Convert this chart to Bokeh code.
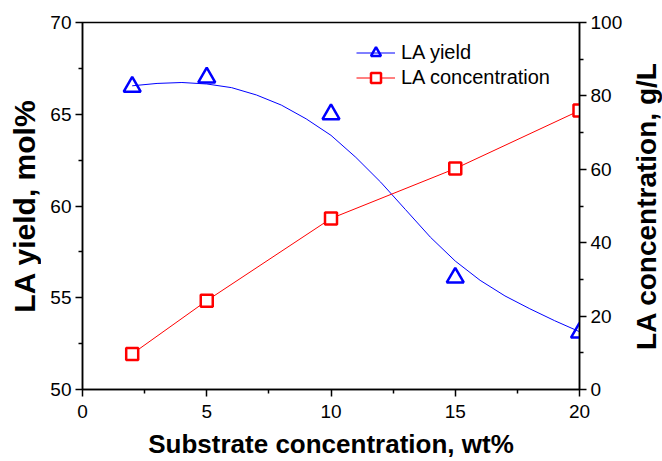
from bokeh.plotting import figure
from bokeh.layouts import row
from bokeh.models import Range1d, LinearAxis, Legend, LegendItem, FixedTicker
from bokeh.embed import file_html
from bokeh.resources import INLINE

# ---- data ----
substrate = [2, 5, 10, 15, 20]
la_yield = [66.5, 67.0, 65.0, 56.1, 53.1]
la_conc = [9.7, 24.2, 46.6, 60.2, 76.0]
fit_x = [2, 3, 4, 5, 6, 7, 8, 9, 10, 11, 12, 13, 14, 15, 16, 17, 18, 19, 20]
fit_yield = [66.55, 66.68, 66.73, 66.65, 66.45, 66.05, 65.5, 64.75, 63.85,
             62.65, 61.3, 59.8, 58.3, 57.0, 55.95, 55.1, 54.4, 53.75, 53.15]
x_ticks = [0, 5, 10, 15, 20]
x_minor = [2.5, 7.5, 12.5, 17.5]
left_ticks = [50, 55, 60, 65, 70]
left_minor = [52.5, 57.5, 62.5, 67.5]
right_ticks = [0, 20, 40, 60, 80, 100]
right_minor = [10, 30, 50, 70, 90]
x_title = "Substrate concentration, wt%"
left_title = "LA yield, mol%"
right_title = "LA concentration, g/L"

FONT = "Liberation Sans"
BLUE = "#0000ff"
RED = "#ff0000"
H = 461

p = figure(width=584, height=H, output_backend="svg", toolbar_location=None,
           x_range=Range1d(0, 20), y_range=Range1d(50, 70),
           min_border_left=41, min_border_right=45, min_border_top=22,
           min_border_bottom=70)
p.extra_y_ranges = {"conc": Range1d(0, 100)}
p.xgrid.visible = False
p.ygrid.visible = False
p.outline_line_color = "black"
p.outline_line_width = 1.5
p.background_fill_color = "white"
p.border_fill_color = "white"

def style_axis(ax, ticks, minor):
    ax.ticker = FixedTicker(ticks=ticks, minor_ticks=minor)
    ax.axis_line_color = "black"
    ax.axis_line_width = 1.5
    ax.major_tick_line_width = 1.5
    ax.minor_tick_line_width = 1.5
    ax.major_tick_in = 0
    ax.major_tick_out = 7
    ax.minor_tick_in = 0
    ax.minor_tick_out = 4
    ax.major_label_text_font = FONT
    ax.major_label_text_font_size = "19px"
    ax.major_label_text_color = "black"

xa = p.xaxis[0]
style_axis(xa, x_ticks, x_minor)
xa.major_label_standoff = 8
xa.axis_label = x_title
xa.axis_label_standoff = 8
xa.axis_label_text_font = FONT
xa.axis_label_text_font_style = "bold"
xa.axis_label_text_font_size = "26px"
xa.axis_label_text_color = "black"

ya = p.yaxis[0]
style_axis(ya, left_ticks, left_minor)
ya.major_label_standoff = 4

ra = LinearAxis(y_range_name="conc")
style_axis(ra, right_ticks, right_minor)
ra.major_label_standoff = 4
p.add_layout(ra, "right")

fit_line = p.line(fit_x, fit_yield, line_color=BLUE, line_width=1)
tri = p.scatter(substrate, la_yield, marker="triangle", size=17,
                fill_color=None, line_color=BLUE, line_width=2.5)
conc_line = p.line(substrate, la_conc, y_range_name="conc",
                   line_color=RED, line_width=1)
sq = p.scatter(substrate, la_conc, y_range_name="conc", marker="square",
               size=12, fill_color="white", line_color=RED, line_width=2.5)

legend = Legend(items=[LegendItem(label="LA yield", renderers=[fit_line, tri]),
                       LegendItem(label="LA concentration", renderers=[conc_line, sq])],
                location=(274, 299))
legend.label_text_font = FONT
legend.label_text_font_size = "20px"
legend.label_text_color = "black"
legend.glyph_width = 39
legend.glyph_height = 25
legend.label_height = 25
legend.spacing = 0
legend.padding = 0
legend.margin = 0
legend.label_standoff = 6
legend.border_line_color = None
legend.background_fill_alpha = 0
p.add_layout(legend, "center")

# narrow figures that only carry a vertical axis title (read bottom-to-top)
def title_fig(text, size, width, top, bottom):
    t = figure(width=width, height=H, output_backend="svg", toolbar_location=None,
               x_range=Range1d(0, 1), y_range=Range1d(0, 1),
               min_border_left=width - 1, min_border_right=0,
               min_border_top=top, min_border_bottom=bottom)
    t.xaxis.visible = False
    t.xgrid.visible = False
    t.ygrid.visible = False
    t.outline_line_color = None
    t.background_fill_color = "white"
    t.border_fill_color = "white"
    ax = t.yaxis[0]
    ax.ticker = FixedTicker(ticks=[], minor_ticks=[])
    ax.axis_line_color = None
    ax.major_tick_line_color = None
    ax.minor_tick_line_color = None
    ax.major_tick_in = 0
    ax.major_tick_out = 0
    ax.minor_tick_in = 0
    ax.minor_tick_out = 0
    ax.major_label_standoff = 0
    ax.axis_label = text
    ax.axis_label_standoff = 0
    ax.axis_label_text_font = FONT
    ax.axis_label_text_font_style = "bold"
    ax.axis_label_text_font_size = size
    ax.axis_label_text_color = "black"
    return t

lt = title_fig(left_title, "30px", 41, 22, 31)
rt = title_fig(right_title, "28px", 37, 22, 37)

layout = row(lt, p, rt, spacing=0)
open("out.html", "w").write(file_html(layout, INLINE))
